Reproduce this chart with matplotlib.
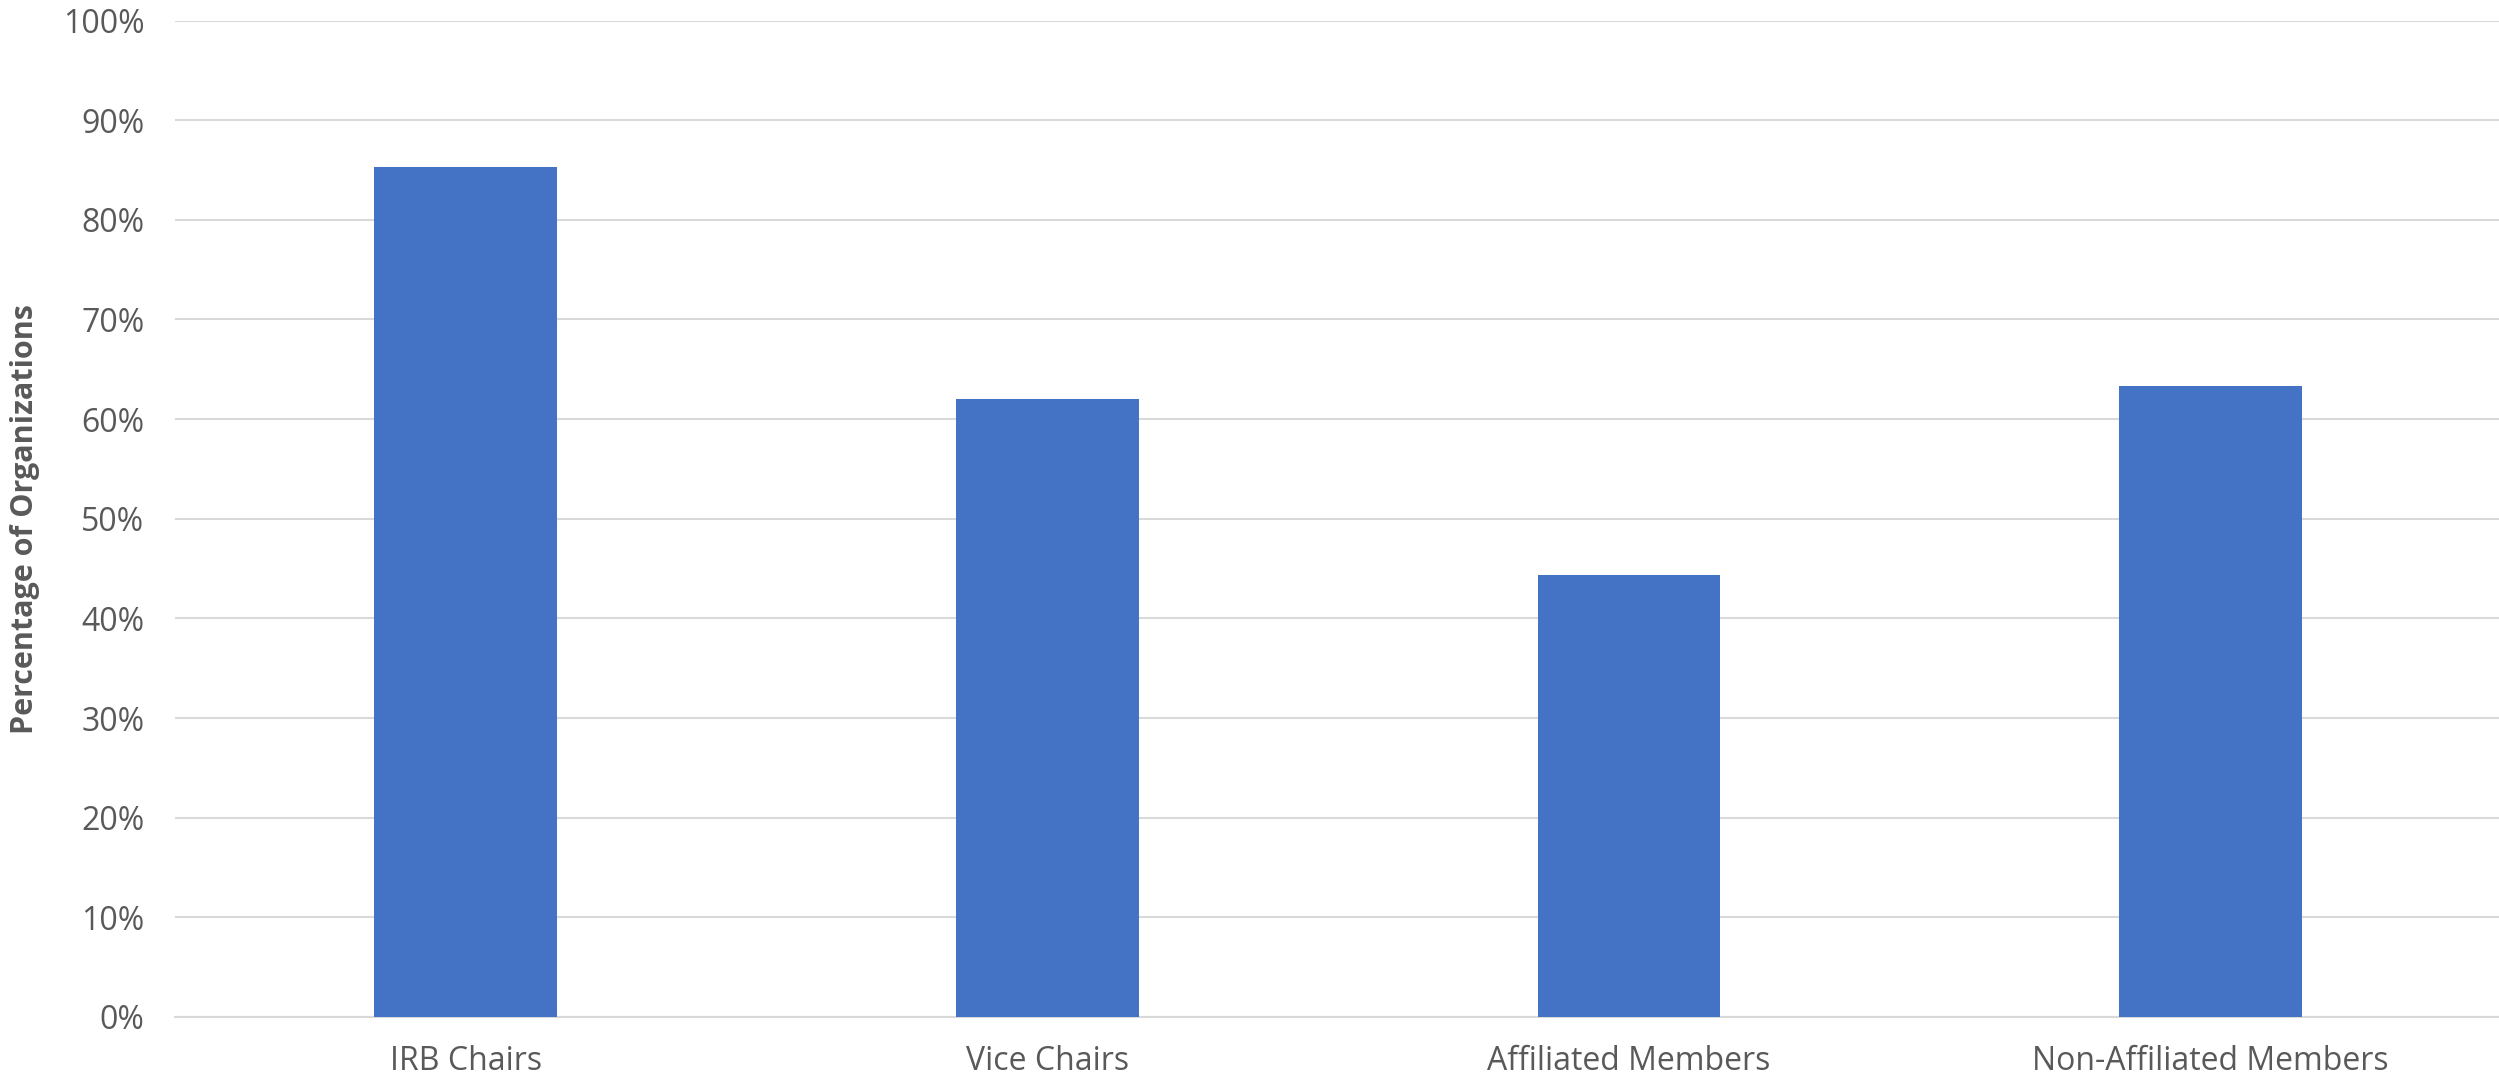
import matplotlib.pyplot as plt
from matplotlib.ticker import PercentFormatter

categories = ['IRB Chairs', 'Vice Chairs', 'Affiliated Members', 'Non-Affiliated Members']
values = [85.3, 62.0, 44.4, 63.3]
yticks = [0, 10, 20, 30, 40, 50, 60, 70, 80, 90, 100]

plt.rcParams['font.family'] = ['Open Sans', 'DejaVu Sans']
grey = '#595959'

fig = plt.figure(figsize=(24.99, 10.83), dpi=100)
ax = fig.add_axes([0.070, 0.061, 0.931, 0.920])

x = range(len(categories))
ax.bar(x, values, width=0.314, color='#4472C4', zorder=3)

ax.set_xlim(-0.5, len(categories) - 0.5)
ax.set_ylim(0, 100)
ax.set_yticks(yticks)
ax.yaxis.set_major_formatter(PercentFormatter(decimals=0))
ax.set_xticks(list(x))
ax.set_xticklabels(categories)

ax.grid(axis='y', color='#d9d9d9', linewidth=1.5, zorder=0)
for s in ['top', 'right', 'left']:
    ax.spines[s].set_visible(False)
ax.spines['bottom'].set_color('#d9d9d9')
ax.spines['bottom'].set_linewidth(1.5)
ax.tick_params(axis='both', length=0, labelsize=23, colors=grey)
ax.tick_params(axis='x', pad=20)
ax.tick_params(axis='y', pad=22)

ax.set_ylabel('Percentage of Organizations', fontsize=22, fontweight='bold', color=grey)
ax.yaxis.set_label_coords(-0.058, 0.5)

fig.savefig('out.png', dpi=100)
